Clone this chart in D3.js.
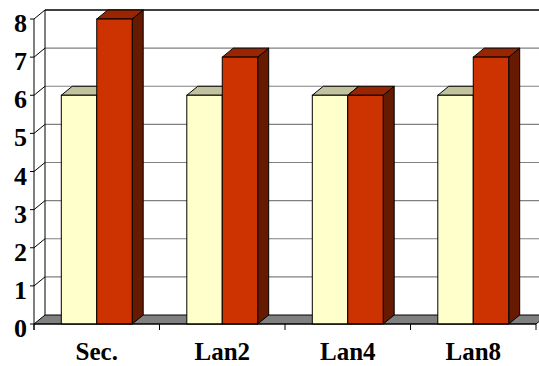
<!DOCTYPE html>
<html>
<head>
<meta charset="utf-8">
<script src="https://cdn.jsdelivr.net/npm/d3@7"></script>
<style>
  html, body { margin: 0; padding: 0; background: #fff; }
  svg { display: block; }
</style>
</head>
<body>
<svg id="chart" width="539" height="366"></svg>
<script>
// Categories and the two series
const categories = ["Sec.", "Lan2", "Lan4", "Lan8"];
const seriesNames = ["s1", "s2"];
const seriesA = [6, 6, 6, 6];
const seriesB = [8, 7, 6, 7];
const yTicks = [0, 1, 2, 3, 4, 5, 6, 7, 8];

// Bar colours: front / top / side faces
const palette = {
  s1: { front: "#FFFFCC", top: "#C2C29E", side: "#9E9E7E" },
  s2: { front: "#CC3300", top: "#992600", side: "#661A00" }
};

const FONT = "'Liberation Serif'";
const depth = { dx: 11, dy: -9 };        // offset from front plane to back wall
const svg = d3.select("#chart");

const x = d3.scaleBand().domain(categories).range([34, 536]).padding(0);
const y = d3.scaleLinear().domain([0, 8]).range([324, 19]);
const xs = d3.scaleBand().domain(seriesNames)
  .range([0, x.bandwidth()]).paddingInner(0).paddingOuter(0.77);

const x0 = x.range()[0], x1 = x.range()[1];
const yTop = y(8), yBase = y(0);

// Back wall
svg.append("rect")
  .attr("x", x0 + depth.dx).attr("y", yTop + depth.dy)
  .attr("width", x1 - x0).attr("height", yBase - yTop)
  .attr("fill", "#fff");

// Horizontal gridlines on the back wall
svg.append("g").selectAll("line").data(yTicks.filter(d => d > 0 && d < 8)).join("line")
  .attr("x1", x0 + depth.dx).attr("x2", x1 + depth.dx)
  .attr("y1", d => y(d) + depth.dy).attr("y2", d => y(d) + depth.dy)
  .attr("stroke", "#808080").attr("stroke-width", 1.2);

// Top edge of the back wall
svg.append("line")
  .attr("x1", x0 + depth.dx).attr("x2", x1 + depth.dx)
  .attr("y1", yTop + depth.dy).attr("y2", yTop + depth.dy)
  .attr("stroke", "#000").attr("stroke-width", 1.6);

// Side wall gridlines (front tick to back wall)
svg.append("g").selectAll("line").data(yTicks.filter(d => d > 0)).join("line")
  .attr("x1", x0).attr("y1", d => y(d))
  .attr("x2", x0 + depth.dx).attr("y2", d => y(d) + depth.dy)
  .attr("stroke", "#000").attr("stroke-width", 1);

// Left edge of the back wall
svg.append("line")
  .attr("x1", x0 + depth.dx).attr("x2", x0 + depth.dx)
  .attr("y1", yTop + depth.dy).attr("y2", yBase + depth.dy)
  .attr("stroke", "#000").attr("stroke-width", 1);

// Floor
svg.append("path")
  .attr("d", `M${x0},${yBase}L${x1},${yBase}L${x1 + depth.dx},${yBase + depth.dy}L${x0 + depth.dx},${yBase + depth.dy}Z`)
  .attr("fill", "#808080").attr("stroke", "#000").attr("stroke-width", 1);

// Bars
const bars = [];
categories.forEach((c, i) => {
  bars.push({ cat: c, key: "s1", v: seriesA[i] });
  bars.push({ cat: c, key: "s2", v: seriesB[i] });
});

const g = svg.append("g");
bars.forEach(b => {
  const bx = x(b.cat) + xs(b.key);
  const bw = xs.bandwidth();
  const yt = y(b.v);
  const col = palette[b.key];
  const dx = depth.dx, dy = depth.dy;
  // side face
  g.append("path")
    .attr("d", `M${bx + bw},${yBase}L${bx + bw},${yt}L${bx + bw + dx},${yt + dy}L${bx + bw + dx},${yBase + dy}Z`)
    .attr("fill", col.side).attr("stroke", "#000").attr("stroke-width", 1).attr("stroke-linejoin", "round");
  // top face
  g.append("path")
    .attr("d", `M${bx},${yt}L${bx + dx},${yt + dy}L${bx + bw + dx},${yt + dy}L${bx + bw},${yt}Z`)
    .attr("fill", col.top).attr("stroke", "#000").attr("stroke-width", 1).attr("stroke-linejoin", "round");
  // front face
  g.append("rect")
    .attr("x", bx).attr("y", yt).attr("width", bw).attr("height", yBase - yt)
    .attr("fill", col.front).attr("stroke", "#000").attr("stroke-width", 1);
});

// Value axis (front)
svg.append("line")
  .attr("x1", x0).attr("x2", x0).attr("y1", yTop).attr("y2", yBase + 6)
  .attr("stroke", "#000").attr("stroke-width", 1);
svg.append("g").selectAll("line").data(yTicks).join("line")
  .attr("x1", x0 - 4).attr("x2", x0).attr("y1", d => y(d)).attr("y2", d => y(d))
  .attr("stroke", "#000");
svg.append("g").selectAll("text").data(yTicks).join("text")
  .attr("x", 27).attr("y", d => y(d) + 13)
  .attr("text-anchor", "end")
  .attr("font-family", FONT).attr("font-weight", "bold").attr("font-size", 26)
  .text(d => d);

// Category axis (front)
svg.append("line")
  .attr("x1", x0).attr("x2", x1).attr("y1", yBase).attr("y2", yBase)
  .attr("stroke", "#000").attr("stroke-width", 1.2);
const bounds = categories.map(c => x(c)).concat([x1]);
svg.append("g").selectAll("line").data(bounds).join("line")
  .attr("x1", d => d).attr("x2", d => d).attr("y1", yBase).attr("y2", yBase + 6)
  .attr("stroke", "#000");
svg.append("g").selectAll("text").data(categories).join("text")
  .attr("x", d => x(d) + x.bandwidth() / 2).attr("y", 360)
  .attr("text-anchor", "middle")
  .attr("font-family", FONT).attr("font-weight", "bold").attr("font-size", 25)
  .text(d => d);
</script>
</body>
</html>
